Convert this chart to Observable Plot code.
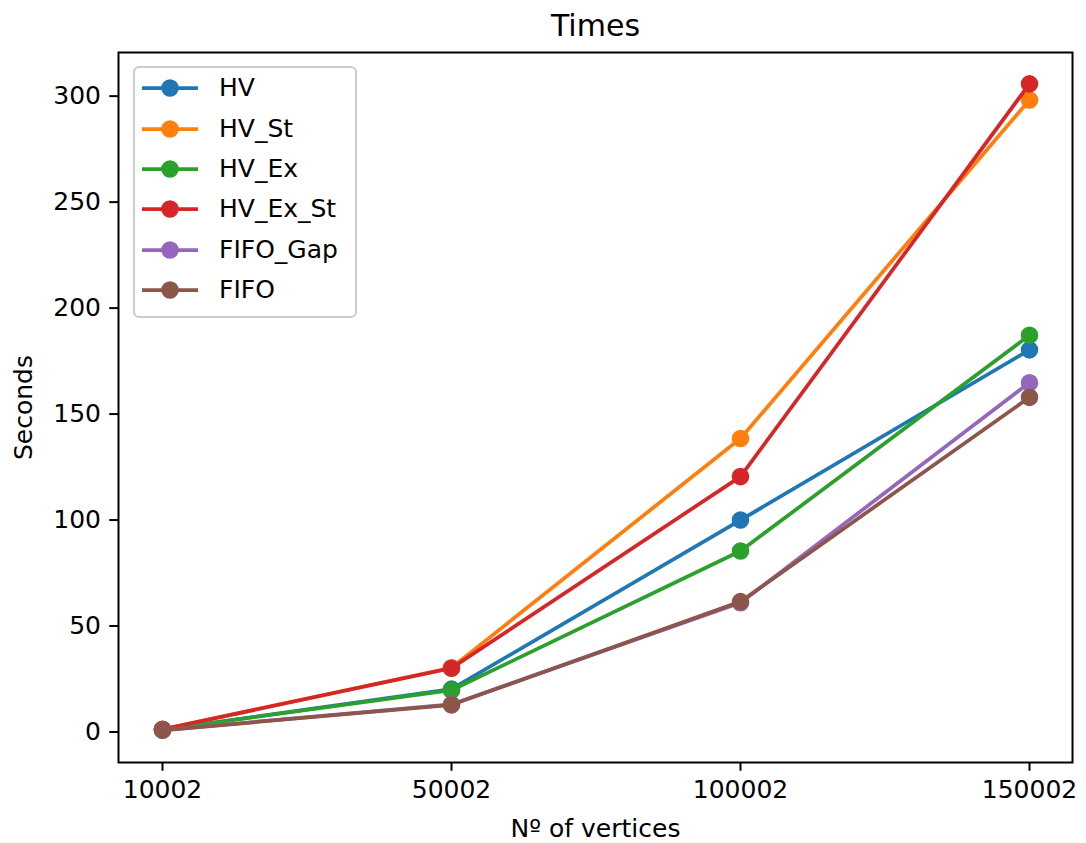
<!DOCTYPE html>
<html><head><meta charset="utf-8">
<script src="https://cdn.jsdelivr.net/npm/d3@7"></script>
<script src="https://cdn.jsdelivr.net/npm/@observablehq/plot@0.6"></script>
<style>
body{margin:0;background:#fff;font-family:"DejaVu Sans",sans-serif;}
#wrap{position:relative;width:1086px;height:843px;}
#legend{position:absolute;left:133px;top:66px;width:220px;height:248px;border:2px solid #cccccc;border-radius:6px;background:rgba(255,255,255,0.8);box-sizing:content-box;}
.row{position:absolute;left:0;width:220px;height:40px;}
.row svg{position:absolute;left:7px;top:0;}
.row span{position:absolute;left:84px;top:0;line-height:40px;font-size:25px;color:#000;white-space:nowrap;}
</style></head><body><div id="wrap"></div>
<script>
const vertices = ["10002", "50002", "100002", "150002"];
const seriesNames = ["HV", "HV_St", "HV_Ex", "HV_Ex_St", "FIFO_Gap", "FIFO"];
const HV       = [1.0, 20.2, 100.0, 180.3];
const HV_St    = [1.2, 30.3, 138.5, 298.2];
const HV_Ex    = [1.1, 19.7, 85.4, 187.2];
const HV_Ex_St = [1.3, 30.1, 120.5, 305.8];
const FIFO_Gap = [0.9, 13.0, 61.0, 164.8];
const FIFO     = [0.8, 12.8, 61.5, 157.9];
const colors = ["#1f77b4", "#ff7f0e", "#2ca02c", "#d62728", "#9467bd", "#8c564b"];
const yTicks = [0, 50, 100, 150, 200, 250, 300];
const titleText = "Times";
const xLabel = "Nº of vertices";
const yLabel = "Seconds";

const seriesValues = [HV, HV_St, HV_Ex, HV_Ex_St, FIFO_Gap, FIFO];
const rows = [];
seriesNames.forEach((name, i) => vertices.forEach((v, j) => rows.push({series: name, vertices: v, seconds: seriesValues[i][j]})));

const seriesMarks = [];
seriesNames.forEach((name, i) => {
  const d = rows.filter(r => r.series === name);
  seriesMarks.push(Plot.line(d, {x: "vertices", y: "seconds", stroke: colors[i], strokeWidth: 3.75}));
  seriesMarks.push(Plot.dot(d, {x: "vertices", y: "seconds", fill: colors[i], stroke: colors[i], strokeWidth: 2, r: 7.8}));
});

const chart = Plot.plot({
  width: 1086, height: 843,
  marginLeft: 118, marginRight: 14, marginTop: 52, marginBottom: 81,
  style: {fontFamily: "DejaVu Sans", fontSize: "25px", color: "#000", background: "#fff"},
  x: {type: "point", domain: vertices, padding: 0.15},
  y: {domain: [-14.4, 320.6]},
  marks: [
    Plot.axisX({tickSize: 8.75, tickPadding: 8.75, strokeWidth: 2, label: xLabel, labelAnchor: "center", labelOffset: 74, labelArrow: "none"}),
    Plot.axisY({ticks: yTicks, tickSize: 8.75, tickPadding: 8.75, strokeWidth: 2, label: yLabel, labelAnchor: "center", labelOffset: 104, labelArrow: "none"}),
    ...seriesMarks,
    Plot.frame({stroke: "#000", strokeWidth: 2}),
    Plot.text([titleText], {text: d => d, frameAnchor: "top", dy: -17, lineAnchor: "bottom", fontSize: 30})
  ]
});
const wrap = document.getElementById("wrap");
wrap.appendChild(chart);

const legend = document.createElement("div");
legend.id = "legend";
seriesNames.forEach((name, i) => {
  const row = document.createElement("div");
  row.className = "row";
  row.style.top = (0.3 + 40.3 * i) + "px";
  row.innerHTML = `<svg width="56" height="40"><line x1="0" x2="56" y1="20" y2="20" stroke="${colors[i]}" stroke-width="3.75"/><circle cx="28" cy="20" r="7.8" fill="${colors[i]}" stroke="${colors[i]}" stroke-width="2"/></svg><span>${name}</span>`;
  legend.appendChild(row);
});
wrap.appendChild(legend);
</script>
</body></html>
